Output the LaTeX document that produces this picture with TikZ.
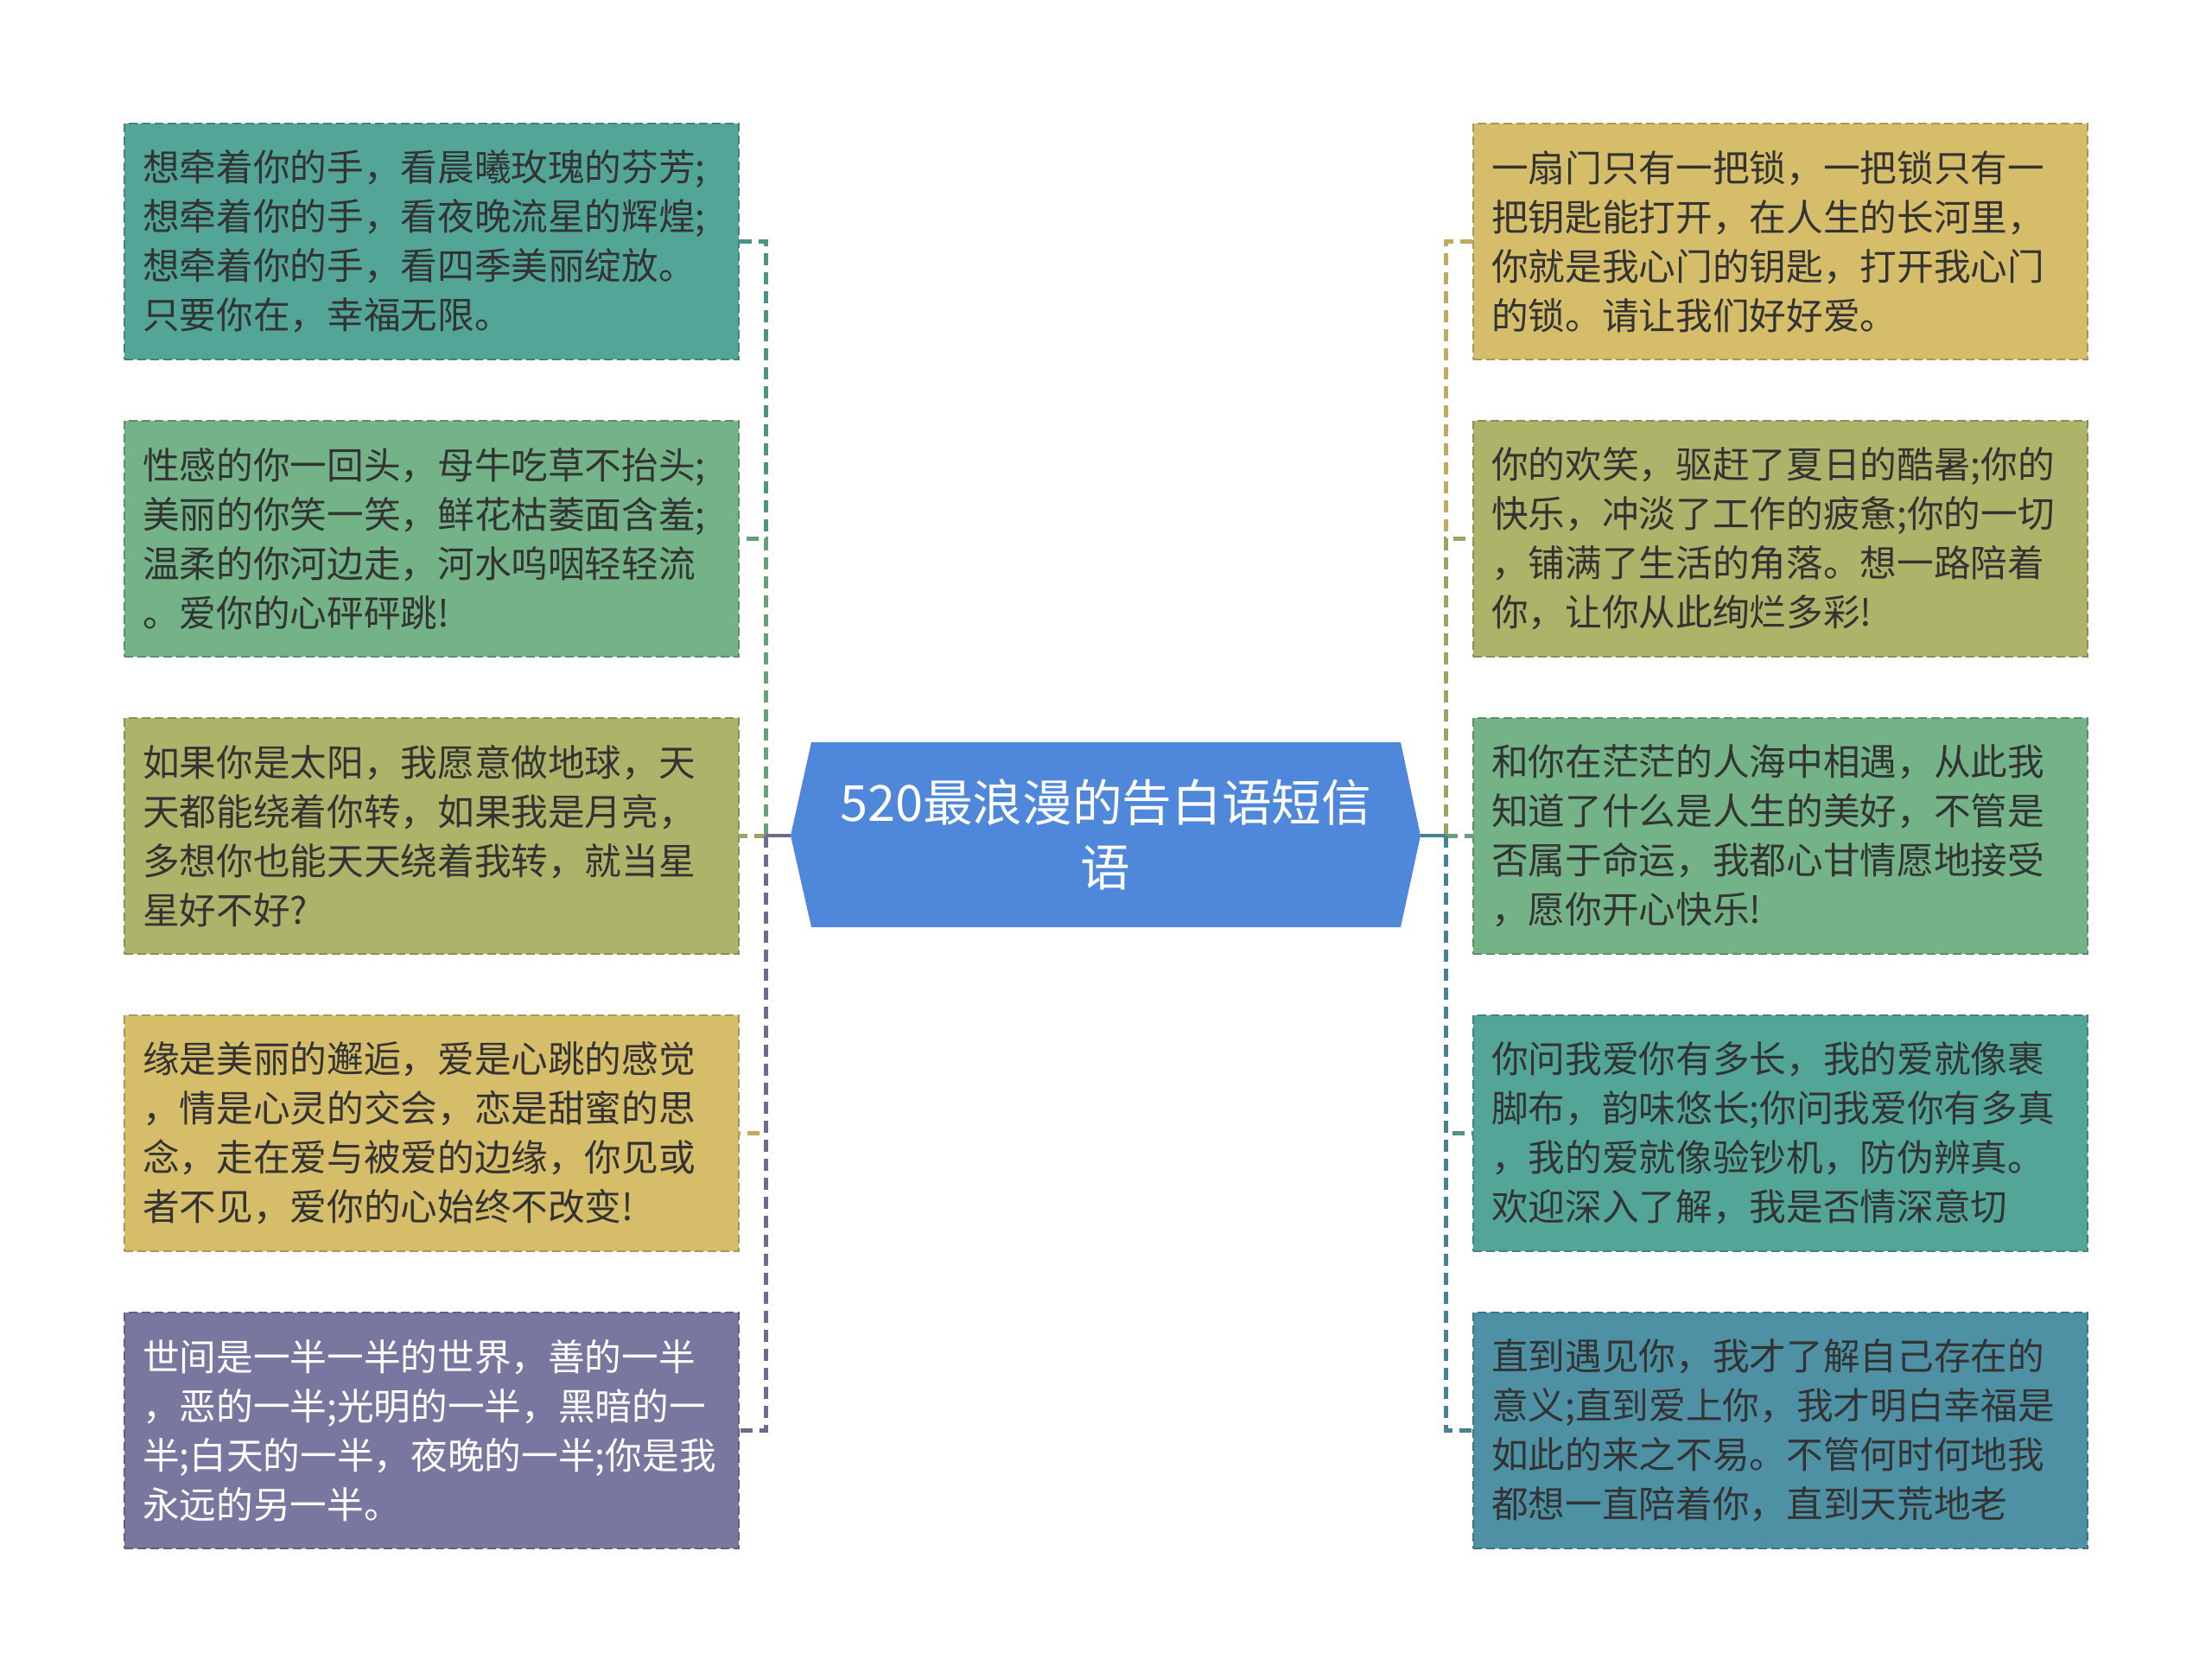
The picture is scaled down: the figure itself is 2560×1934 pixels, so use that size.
\documentclass[tikz,border=0pt]{standalone}
\usepackage{fontspec}
\setmainfont{Noto Sans CJK SC}
\definecolor{tealc}{HTML}{52A597}
\definecolor{greenc}{HTML}{74B287}
\definecolor{olivec}{HTML}{ADB46A}
\definecolor{goldc}{HTML}{D5BD6A}
\definecolor{purplec}{HTML}{7877A0}
\definecolor{bluetc}{HTML}{4E91A4}
\definecolor{centerc}{HTML}{4F87DA}
\definecolor{textc}{HTML}{333333}
\tikzset{
  box/.style={draw=#1!80!black, fill=#1, line width=0.6pt, dash pattern=on 3pt off 1.5pt,
    text width=200.7pt, inner xsep=6.3pt, inner ysep=0pt, minimum height=81.9pt,
    align=left, outer sep=0pt, text=textc, font=\fontsize{12.8pt}{17.1pt}\selectfont},
  link/.style={draw=#1!90!black, line width=1.5pt, dash pattern=on 4.2pt off 2.4pt},
  stem/.style={draw=#1!90!black, line width=1.3pt},
}
\begin{document}
\begin{tikzpicture}[x=0.3pt,y=-0.3pt]
\useasboundingbox[fill=white] (0,0) rectangle (2560,1934);
% center
\coordinate (CL) at (915,967);
\coordinate (CR) at (1644,967);
\coordinate (LV) at (886,967);
\coordinate (RV) at (1673,967);
\fill[centerc] (CL) -- (939,859) -- (1621,859) -- (CR) -- (1621,1073) -- (939,1073) -- cycle;
\node[text=white, align=center, font=\fontsize{17.3pt}{22.5pt}\selectfont] (C) at (1279.5,966) {520最浪漫的告白语短信\\语};
% left boxes
\node[box=tealc] (L1) at (499.5,279.5) {想牵着你的手，看晨曦玫瑰的芬芳;\\想牵着你的手，看夜晚流星的辉煌;\\想牵着你的手，看四季美丽绽放。\\只要你在，幸福无限。};
\node[box=greenc] (L2) at (499.5,623.5) {性感的你一回头，母牛吃草不抬头;\\美丽的你笑一笑，鲜花枯萎面含羞;\\温柔的你河边走，河水呜咽轻轻流\\。爱你的心砰砰跳!};
\node[box=olivec] (L3) at (499.5,967.5) {如果你是太阳，我愿意做地球，天\\天都能绕着你转，如果我是月亮，\\多想你也能天天绕着我转，就当星\\星好不好?};
\node[box=goldc] (L4) at (499.5,1311.5) {缘是美丽的邂逅，爱是心跳的感觉\\，情是心灵的交会，恋是甜蜜的思\\念，走在爱与被爱的边缘，你见或\\者不见，爱你的心始终不改变!};
\node[box=purplec, text=white] (L5) at (499.5,1655.5) {世间是一半一半的世界，善的一半\\，恶的一半;光明的一半，黑暗的一\\半;白天的一半，夜晚的一半;你是我\\永远的另一半。};
% right boxes
\node[box=goldc] (R1) at (2060.5,279.5) {一扇门只有一把锁，一把锁只有一\\把钥匙能打开，在人生的长河里，\\你就是我心门的钥匙，打开我心门\\的锁。请让我们好好爱。};
\node[box=olivec] (R2) at (2060.5,623.5) {你的欢笑，驱赶了夏日的酷暑;你的\\快乐，冲淡了工作的疲惫;你的一切\\，铺满了生活的角落。想一路陪着\\你，让你从此绚烂多彩!};
\node[box=greenc] (R3) at (2060.5,967.5) {和你在茫茫的人海中相遇，从此我\\知道了什么是人生的美好，不管是\\否属于命运，我都心甘情愿地接受\\，愿你开心快乐!};
\node[box=tealc] (R4) at (2060.5,1311.5) {你问我爱你有多长，我的爱就像裹\\脚布，韵味悠长;你问我爱你有多真\\，我的爱就像验钞机，防伪辨真。\\欢迎深入了解，我是否情深意切};
\node[box=bluetc] (R5) at (2060.5,1655.5) {直到遇见你，我才了解自己存在的\\意义;直到爱上你，我才明白幸福是\\如此的来之不易。不管何时何地我\\都想一直陪着你，直到天荒地老};
% left connectors
\draw[stem=tealc] (CL) -- (LV);   \draw[link=tealc] (LV) |- (L1.east);
\draw[stem=greenc] (CL) -- (LV);  \draw[link=greenc] (LV) |- (L2.east);
\draw[stem=olivec] (CL) -- (LV);  \draw[link=olivec] (LV) |- (L3.east);
\draw[stem=goldc] (CL) -- (LV);   \draw[link=goldc] (LV) |- (L4.east);
\draw[stem=purplec] (CL) -- (LV); \draw[link=purplec] (LV) |- (L5.east);
% right connectors
\draw[stem=goldc] (CR) -- (RV);   \draw[link=goldc] (RV) |- (R1.west);
\draw[stem=olivec] (CR) -- (RV);  \draw[link=olivec] (RV) |- (R2.west);
\draw[stem=greenc] (CR) -- (RV);  \draw[link=greenc] (RV) |- (R3.west);
\draw[stem=tealc] (CR) -- (RV);   \draw[link=tealc] (RV) |- (R4.west);
\draw[stem=bluetc] (CR) -- (RV);  \draw[link=bluetc] (RV) |- (R5.west);
\end{tikzpicture}
\end{document}
